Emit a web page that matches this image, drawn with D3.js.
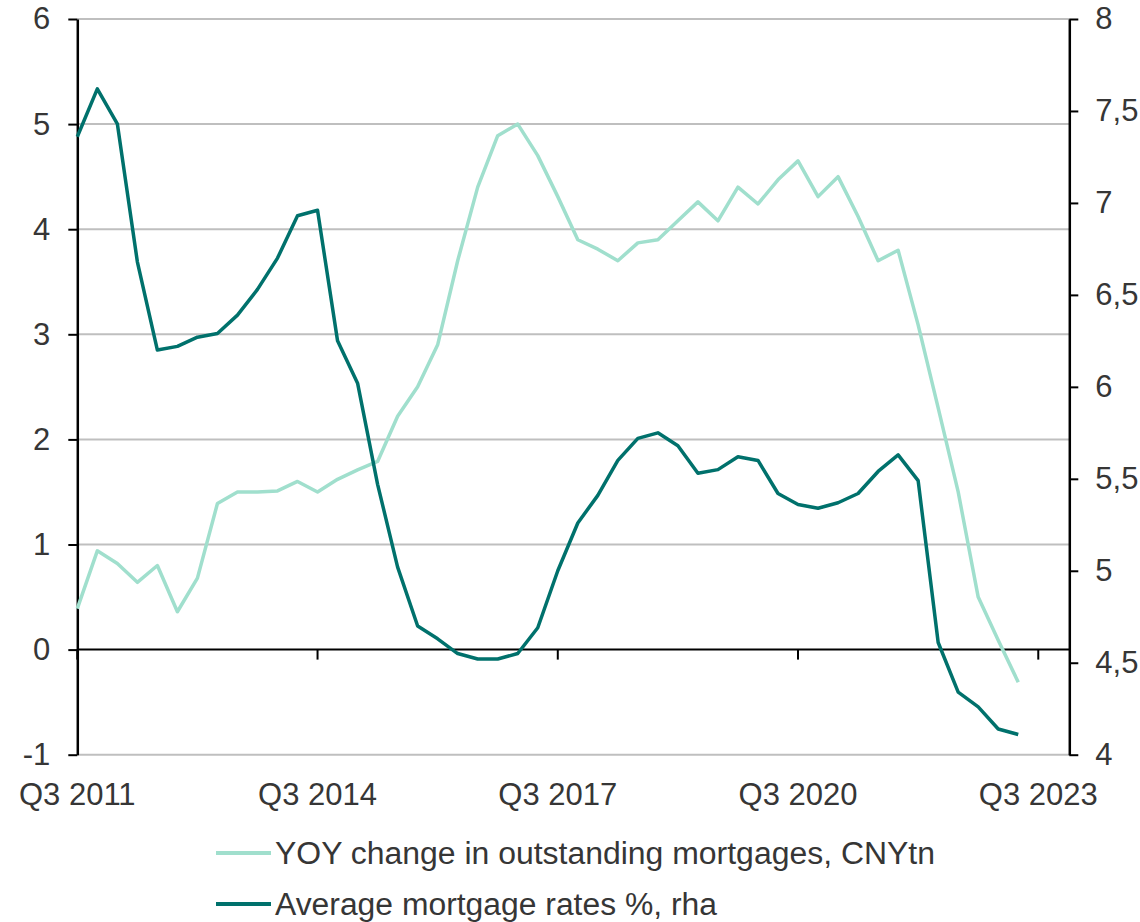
<!DOCTYPE html>
<html lang="en">
<head>
<meta charset="UTF-8">
<title>Mortgages</title>
<script src="https://cdn.jsdelivr.net/npm/d3@7/dist/d3.min.js"></script>
<style>
  body { margin: 0; background: #fff; }
  text { font-family: "Liberation Sans", Arial, sans-serif; fill: #363636; }
</style>
</head>
<body>
<svg width="1140" height="922"></svg>
<script>
// quarters, Q3 2011 .. Q2 2023
var quarters = [
  "Q3 2011","Q4 2011","Q1 2012","Q2 2012","Q3 2012","Q4 2012","Q1 2013","Q2 2013",
  "Q3 2013","Q4 2013","Q1 2014","Q2 2014","Q3 2014","Q4 2014","Q1 2015","Q2 2015",
  "Q3 2015","Q4 2015","Q1 2016","Q2 2016","Q3 2016","Q4 2016","Q1 2017","Q2 2017",
  "Q3 2017","Q4 2017","Q1 2018","Q2 2018","Q3 2018","Q4 2018","Q1 2019","Q2 2019",
  "Q3 2019","Q4 2019","Q1 2020","Q2 2020","Q3 2020","Q4 2020","Q1 2021","Q2 2021",
  "Q3 2021","Q4 2021","Q1 2022","Q2 2022","Q3 2022","Q4 2022","Q1 2023","Q2 2023"
];

// YOY change in outstanding mortgages, CNYtn (left axis)
var yoyChange = [
  0.39, 0.94, 0.82, 0.64, 0.80, 0.36, 0.68, 1.39,
  1.50, 1.50, 1.51, 1.60, 1.50, 1.62, 1.71, 1.79,
  2.22, 2.50, 2.90, 3.70, 4.40, 4.89, 5.00, 4.70,
  4.31, 3.90, 3.81, 3.70, 3.87, 3.90, 4.08, 4.26,
  4.08, 4.40, 4.24, 4.47, 4.65, 4.31, 4.50, 4.12,
  3.70, 3.80, 3.09, 2.30, 1.50, 0.50, 0.09, -0.31
];

// Average mortgage rates %, right axis
var mortgageRate = [
  7.36, 7.62, 7.43, 6.68, 6.20, 6.22, 6.27, 6.29,
  6.39, 6.53, 6.70, 6.93, 6.96, 6.25, 6.02, 5.47,
  5.02, 4.70, 4.63, 4.55, 4.52, 4.52, 4.55, 4.69,
  5.00, 5.26, 5.41, 5.60, 5.72, 5.75, 5.68, 5.53,
  5.55, 5.62, 5.60, 5.42, 5.36, 5.34, 5.37, 5.42,
  5.54, 5.63, 5.49, 4.61, 4.34, 4.26, 4.14, 4.11
];

var leftTicks = [-1, 0, 1, 2, 3, 4, 5, 6];
var rightTicks = [4, 4.5, 5, 5.5, 6, 6.5, 7, 7.5, 8];
var xTickLabels = ["Q3 2011", "Q3 2014", "Q3 2017", "Q3 2020", "Q3 2023"];
var xTickIdx = [0, 12, 24, 36, 48];
var seriesNames = ["YOY change in outstanding mortgages, CNYtn", "Average mortgage rates %, rha"];

var lightColor = "#a0dfcd",
    darkColor = "#00716c";

var svg = d3.select("svg");

var plotLeft = 77.3, plotRight = 1069.3, plotTop = 19, plotBottom = 754.7;

var x = d3.scaleLinear().domain([0, 49.55]).range([plotLeft, plotRight]);
var yL = d3.scaleLinear().domain([-1, 6]).range([plotBottom, plotTop]);
var yR = d3.scaleLinear().domain([4, 8]).range([plotBottom, plotTop]);

var loc = d3.formatLocale({decimal: ",", thousands: ".", grouping: [3], currency: ["", ""], minus: "-"});
var fmtL = loc.format("d"),
    fmtR = loc.format(".1~f");

// gridlines
svg.append("g")
  .selectAll("line")
  .data(leftTicks.filter(function(d) { return d !== 0; }))
  .enter().append("line")
  .attr("x1", plotLeft).attr("x2", plotRight)
  .attr("y1", function(d) { return yL(d); })
  .attr("y2", function(d) { return yL(d); })
  .attr("stroke", "#bfbfbf")
  .attr("stroke-width", 2);

// zero line with quarter ticks
svg.append("line")
  .attr("x1", plotLeft).attr("x2", plotRight)
  .attr("y1", yL(0)).attr("y2", yL(0))
  .attr("stroke", "#000").attr("stroke-width", 2);

svg.append("g")
  .selectAll("line")
  .data(xTickIdx)
  .enter().append("line")
  .attr("x1", function(d) { return x(d); })
  .attr("x2", function(d) { return x(d); })
  .attr("y1", yL(0)).attr("y2", yL(0) + 10)
  .attr("stroke", "#000").attr("stroke-width", 2);

svg.append("g")
  .selectAll("text")
  .data(xTickLabels)
  .enter().append("text")
  .attr("x", function(d, i) { return x(xTickIdx[i]); })
  .attr("y", 805)
  .attr("text-anchor", "middle")
  .style("font-size", "31px")
  .text(function(d) { return d; });

// left axis
var axL = svg.append("g")
  .attr("transform", "translate(" + plotLeft + ",0)")
  .call(d3.axisLeft(yL).tickValues(leftTicks).tickFormat(fmtL).tickSize(9).tickSizeOuter(0).tickPadding(18));
axL.select(".domain").attr("stroke", "#000").attr("stroke-width", 2.5);
axL.selectAll(".tick line").attr("stroke", "#000").attr("stroke-width", 2);
axL.selectAll("text").style("font-size", "31px").attr("fill", "#363636");

// right axis
var axR = svg.append("g")
  .attr("transform", "translate(" + plotRight + ",0)")
  .call(d3.axisRight(yR).tickValues(rightTicks).tickFormat(fmtR).tickSize(9).tickSizeOuter(0).tickPadding(17));
axR.select(".domain").attr("stroke", "#000").attr("stroke-width", 2.5);
axR.selectAll(".tick line").attr("stroke", "#000").attr("stroke-width", 2);
axR.selectAll("text").style("font-size", "31px").attr("fill", "#363636");

// lines
var lineL = d3.line()
  .x(function(d, i) { return x(i); })
  .y(function(d) { return yL(d); });
var lineR = d3.line()
  .x(function(d, i) { return x(i); })
  .y(function(d) { return yR(d); });

svg.append("path")
  .datum(yoyChange)
  .attr("d", lineL)
  .attr("fill", "none")
  .attr("stroke", lightColor)
  .attr("stroke-width", 3.5)
  .attr("stroke-linejoin", "round");

svg.append("path")
  .datum(mortgageRate)
  .attr("d", lineR)
  .attr("fill", "none")
  .attr("stroke", darkColor)
  .attr("stroke-width", 3.5)
  .attr("stroke-linejoin", "round");

// legend
var legend = svg.append("g")
  .selectAll("g")
  .data(seriesNames)
  .enter().append("g");

legend.append("line")
  .attr("x1", 216).attr("x2", 271)
  .attr("y1", function(d, i) { return 853 + i * 51; })
  .attr("y2", function(d, i) { return 853 + i * 51; })
  .attr("stroke", function(d, i) { return i === 0 ? lightColor : darkColor; })
  .attr("stroke-width", 4);

legend.append("text")
  .attr("x", 275)
  .attr("y", function(d, i) { return 864 + i * 51; })
  .style("font-size", "31px")
  .attr("textLength", function(d, i) { return i === 0 ? 660 : 442; })
  .attr("lengthAdjust", "spacingAndGlyphs")
  .text(function(d) { return d; });
</script>
</body>
</html>
